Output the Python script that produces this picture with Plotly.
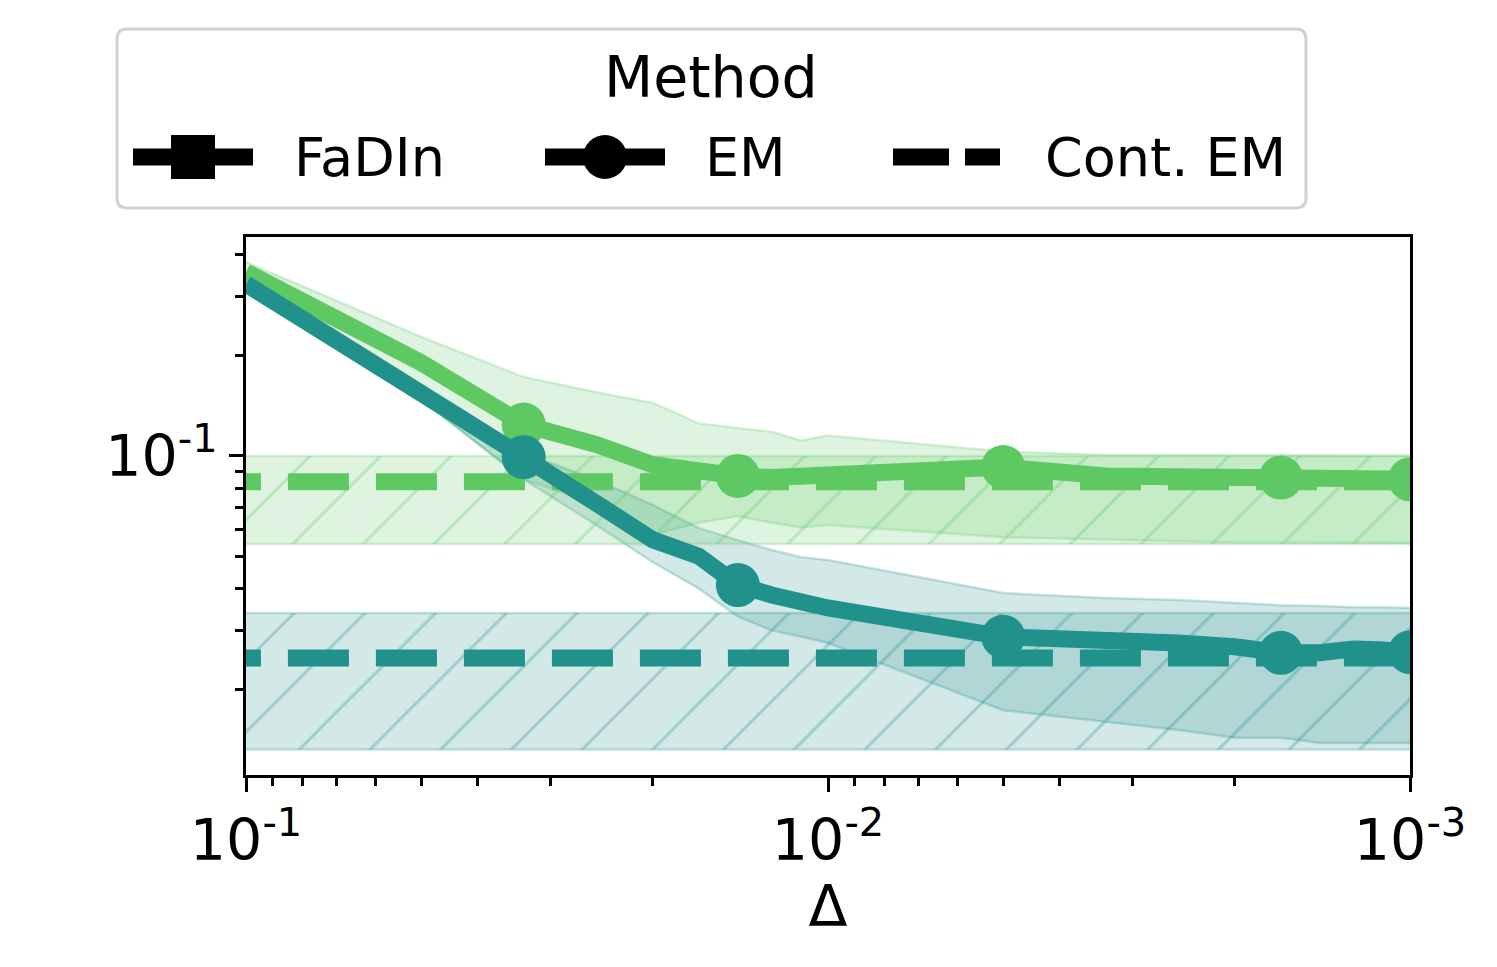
import plotly.graph_objects as go

# step size Delta (x axis, log, reversed)
DELTA = [0.1, 0.05, 1 / 30, 0.025, 0.02, 1 / 60, 1 / 70, 0.0125, 1 / 90, 0.01,
         0.005, 1 / 300, 0.0025, 0.002, 1 / 600, 1 / 700, 0.00125, 1 / 900, 0.001]
MARKED = [2, 6, 10, 14, 18]  # points that carry a circle marker

# EM error curves (two settings)
em_green = [0.355, 0.190, 0.124, 0.108, 0.094, 0.089, 0.087, 0.086, 0.087, 0.088,
            0.0925, 0.087, 0.086, 0.085, 0.086, 0.085, 0.085, 0.085, 0.085]
em_green_lo = [0.307, 0.147, 0.085, 0.072, 0.058, 0.063, 0.066, 0.063, 0.061, 0.062,
               0.057, 0.056, 0.0555, 0.055, 0.055, 0.055, 0.0548, 0.0548, 0.0548]
em_green_hi = [0.380, 0.227, 0.172, 0.155, 0.144, 0.125, 0.121, 0.118, 0.111, 0.115,
               0.103, 0.1005, 0.1005, 0.1005, 0.100, 0.100, 0.100, 0.100, 0.100]

em_teal = [0.327, 0.157, 0.099, 0.072, 0.056, 0.050, 0.041, 0.0383, 0.0362, 0.035,
           0.0287, 0.0283, 0.0275, 0.0268, 0.0257, 0.0257, 0.0264, 0.0262, 0.0258]
em_teal_lo = [0.313, 0.147, 0.085, 0.062, 0.048, 0.040, 0.033, 0.030, 0.0287, 0.0275,
              0.0173, 0.0160, 0.0151, 0.0143, 0.0143, 0.0138, 0.0138, 0.0138, 0.0138]
em_teal_hi = [0.3357, 0.1628, 0.1019, 0.0846, 0.0712, 0.0607, 0.0559, 0.0522, 0.0497, 0.0487,
              0.0388, 0.0375, 0.0370, 0.0362, 0.0357, 0.0355, 0.0352, 0.0352, 0.0350]

# continuous EM (constant in Delta): mean, low, high
CONT_X = [0.12, 0.001]
cont_green = (0.0836, 0.0544, 0.0998)
cont_teal = (0.0248, 0.0132, 0.0338)

GREEN = (94, 201, 98)
TEAL = (33, 145, 140)

FONT = "DejaVu Sans"
PAGE = 8  # default body margin of the html page
PL, PR, PT, PB = 246, 1410, 237, 775  # plot area in page pixels
W, H = 1497 - PAGE, 967 - PAGE
ML, MT = PL - PAGE, PT - PAGE
MR, MB = PAGE + W - PR, PAGE + H - PB
LW = 17


def rgba(c, a):
    return "rgba(%d,%d,%d,%s)" % (c[0], c[1], c[2], a)


def band(x, lo, hi, c, hatch=False):
    edge = dict(color=rgba(c, 0.25), width=2.5)
    out = [go.Scatter(x=x, y=lo, mode="lines", line=edge, showlegend=False, hoverinfo="skip")]
    up = dict(x=x, y=hi, mode="lines", line=edge, fill="tonexty",
              fillcolor=rgba(c, 0.2), showlegend=False, hoverinfo="skip")
    if hatch:
        up["fillpattern"] = dict(shape="/", size=50, solidity=0.06,
                                 fgcolor=rgba(c, 1), fgopacity=0.3,
                                 bgcolor=rgba(c, 0.2))
    out.append(go.Scatter(**up))
    return out


fig = go.Figure()
for lo, hi, c in [(em_green_lo, em_green_hi, GREEN), (em_teal_lo, em_teal_hi, TEAL)]:
    fig.add_traces(band(DELTA, lo, hi, c))
for cont, c in [(cont_green, GREEN), (cont_teal, TEAL)]:
    fig.add_traces(band(CONT_X, [cont[1]] * 2, [cont[2]] * 2, c, hatch=True))
for cont, c in [(cont_green, GREEN), (cont_teal, TEAL)]:
    fig.add_trace(go.Scatter(x=CONT_X, y=[cont[0]] * 2, mode="lines",
                             line=dict(color=rgba(c, 1), width=LW, dash="61px,27px"),
                             showlegend=False))
for ys, c in [(em_green, GREEN), (em_teal, TEAL)]:
    sizes = [44 if i in MARKED else 0 for i in range(len(DELTA))]
    fig.add_trace(go.Scatter(x=DELTA, y=ys, mode="lines+markers",
                             line=dict(color=rgba(c, 1), width=LW),
                             marker=dict(size=sizes, color=rgba(c, 1), opacity=1,
                                         line=dict(width=0)),
                             showlegend=False))

# ---- hand drawn legend (paper coords from page pixel positions) ----
pw, ph = PR - PL, PB - PT


def px(x):
    return (x - PL) / pw


def py(y):
    return (PB - y) / ph


shapes = []
x0, x1, y0, y1, r = 117, 1306, 29, 208, 10
path = ("M{a},{b} L{c},{b} Q{d},{b} {d},{e} L{d},{f} Q{d},{g} {c},{g} "
        "L{a},{g} Q{h},{g} {h},{f} L{h},{e} Q{h},{b} {a},{b} Z").format(
    a=px(x0 + r), b=py(y0), c=px(x1 - r), d=px(x1), e=py(y0 + r),
    f=py(y1 - r), g=py(y1), h=px(x0))
shapes.append(dict(type="path", xref="paper", yref="paper", path=path,
                   line=dict(color="rgb(210,210,210)", width=3), fillcolor="white", layer="above"))
ly = 157
for a, b in [(133, 253), (545, 665)]:
    shapes.append(dict(type="line", xref="paper", yref="paper", x0=px(a), x1=px(b),
                       y0=py(ly), y1=py(ly), line=dict(color="black", width=LW), layer="above"))
shapes.append(dict(type="rect", xref="paper", yref="paper", x0=px(171), x1=px(215),
                   y0=py(ly - 22), y1=py(ly + 22), fillcolor="black", line=dict(width=0), layer="above"))
shapes.append(dict(type="circle", xref="paper", yref="paper", x0=px(583), x1=px(627),
                   y0=py(ly - 22), y1=py(ly + 22), fillcolor="black", line=dict(width=0), layer="above"))
for a, b in [(893, 949), (965, 1000)]:
    shapes.append(dict(type="line", xref="paper", yref="paper", x0=px(a), x1=px(b),
                       y0=py(ly), y1=py(ly), line=dict(color="black", width=LW), layer="above"))

annotations = [dict(text="Method", x=px(711), y=py(77), xanchor="center", yanchor="middle",
                    font=dict(family=FONT, size=57, color="black"))]
for label, lx in [("FaDIn", 292), ("EM", 703), ("Cont. EM", 1043)]:
    annotations.append(dict(text=label, x=px(lx), y=py(ly), xanchor="left", yanchor="middle",
                            font=dict(family=FONT, size=54, color="black")))
for a in annotations:
    a.update(xref="paper", yref="paper", showarrow=False)

x_minor = [k * 10 ** e for e in (-2, -3) for k in range(2, 10)]
y_minor = [k / 100 for k in range(2, 10)] + [0.2, 0.3, 0.4]

axis_common = dict(type="log", showline=True, mirror=True, linecolor="black", linewidth=3,
                   ticks="outside", ticklen=14, tickwidth=3, tickcolor="black",
                   showgrid=False, zeroline=False,
                   tickfont=dict(family=FONT, size=57, color="black"))

fig.update_layout(
    width=W, height=H,
    margin=dict(l=ML, r=MR, t=MT, b=MB),
    paper_bgcolor="white", plot_bgcolor="white",
    font=dict(family=FONT, color="black"),
    shapes=shapes, annotations=annotations,
    xaxis=dict(axis_common, range=[-1, -3], tickmode="array",
               tickvals=[0.1, 0.01, 0.001],
               ticktext=["10<sup>-1</sup>", "10<sup>-2</sup>", "10<sup>-3</sup>"],
               minor=dict(tickmode="array", tickvals=x_minor, ticks="outside",
                          ticklen=8, tickwidth=2.5, tickcolor="black"),
               title=dict(text="Δ", font=dict(family=FONT, size=57), standoff=12)),
    yaxis=dict(axis_common, range=[-1.956, -0.345], tickmode="array",
               tickvals=[0.1], ticktext=["10<sup>-1</sup>"],
               minor=dict(tickmode="array", tickvals=y_minor, ticks="outside",
                          ticklen=8, tickwidth=2.5, tickcolor="black")),
)

fig.write_html("out.html")
